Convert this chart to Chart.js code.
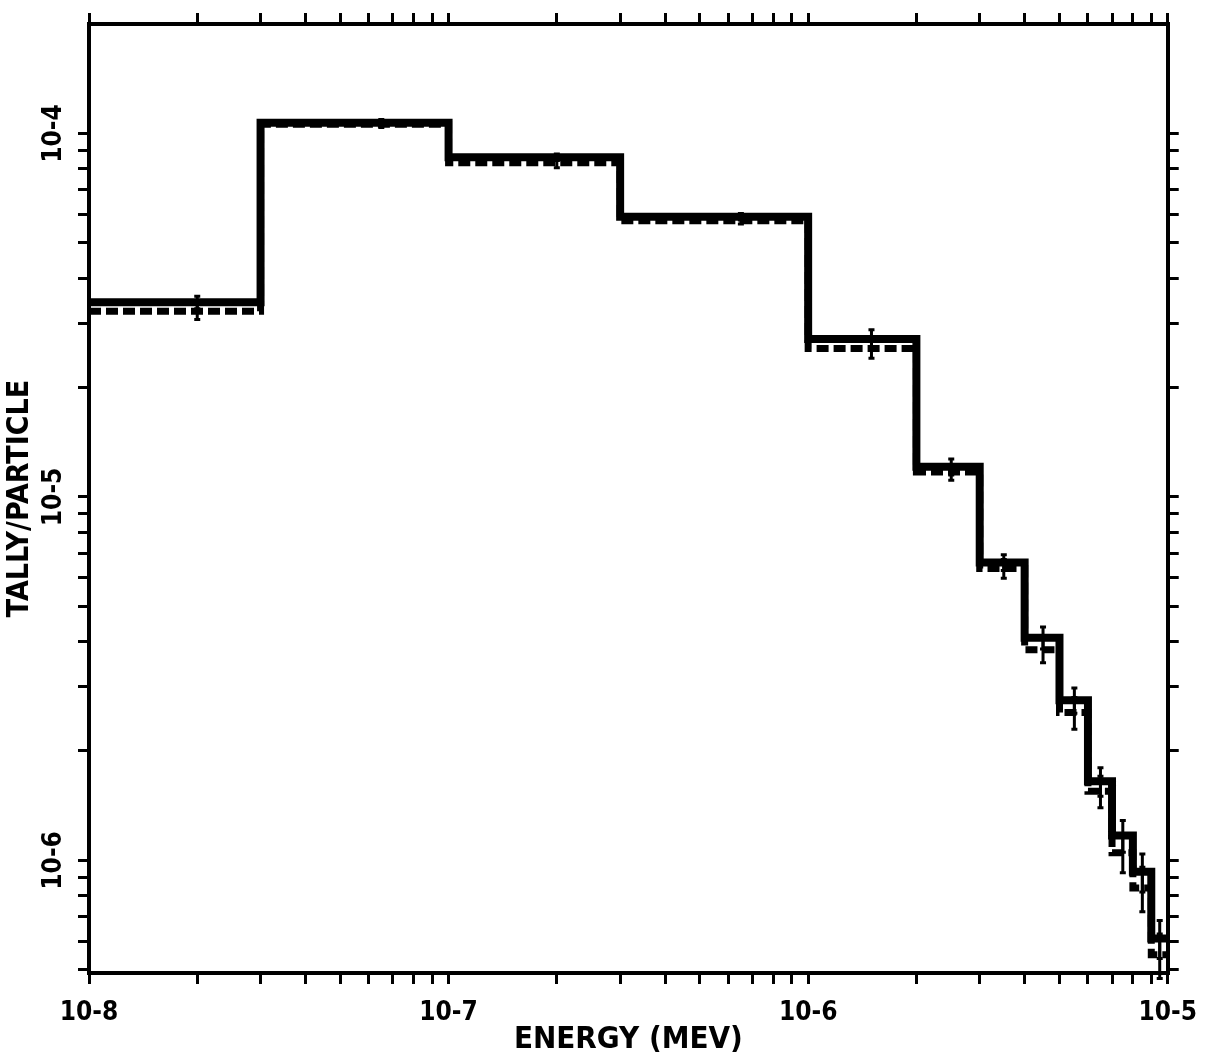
<!DOCTYPE html>
<html>
<head>
<meta charset="utf-8">
<title>Tally per particle</title>
<script src="https://cdn.jsdelivr.net/npm/chart.js@4.4.1/dist/chart.umd.min.js"></script>
<style>
  body { margin: 0; background: #fff; }
  canvas { display: block; }
</style>
</head>
<body>
<canvas id="tally" width="1211" height="1059"></canvas>
<script>
// energy bin edges (MeV)
const binEdges = [1e-8, 3e-8, 1e-7, 3e-7, 1e-6, 2e-6, 3e-6, 4e-6, 5e-6, 6e-6, 7e-6, 8e-6, 9e-6, 1e-5]
// tally per particle in each bin
const tallySolid = [3.43e-5, 1.07e-4, 8.6e-5, 5.9e-5, 2.72e-5, 1.21e-5, 6.6e-6, 4.1e-6, 2.76e-6, 1.65e-6, 1.17e-6, 9.3e-7, 6.1e-7]
const tallyDashed = [3.24e-5, 1.06e-4, 8.3e-5, 5.75e-5, 2.56e-5, 1.17e-5, 6.35e-6, 3.8e-6, 2.55e-6, 1.55e-6, 1.05e-6, 8.4e-7, 5.5e-7]
// relative errors
const errSolid = [0.04, 0.02, 0.02, 0.02, 0.06, 0.05, 0.05, 0.07, 0.08, 0.09, 0.1, 0.12, 0.12]
const errDashed = [0.05, 0.02, 0.03, 0.02, 0.06, 0.05, 0.06, 0.08, 0.1, 0.1, 0.12, 0.14, 0.14]

const xDecades = [1e-8, 1e-7, 1e-6, 1e-5]
const xTickLabels = ['10-8', '10-7', '10-6', '10-5']
const yDecades = [1e-6, 1e-5, 1e-4]
const yTickLabels = ['10-6', '10-5', '10-4']
const minorSteps = [1, 2, 3, 4, 5, 6, 7, 8, 9]

const xMin = 1e-8, xMax = 1e-5
const yMin = 4.9e-7, yMax = 2.0e-4

const plotFont = "'DejaVu Sans Condensed', 'Liberation Sans Narrow', 'DejaVu Sans', sans-serif"

function logTicks(min, max) {
    let out = []
    for (let e = Math.floor(Math.log10(min)); e <= Math.ceil(Math.log10(max)); e++) {
        for (let m of minorSteps) {
            let v = m * Math.pow(10, e)
            if (v >= min * 0.999 && v <= max * 1.001) out.push({ value: v })
        }
    }
    return out
}

function labelFor(value, decades, labels) {
    for (let i = 0; i < decades.length; i++) {
        if (Math.abs(Math.log10(value) - Math.log10(decades[i])) < 1e-6) return labels[i]
    }
    return ''
}

function stepPoints(vals) {
    let pts = vals.map((v, i) => ({ x: binEdges[i], y: v }))
    pts.push({ x: binEdges[binEdges.length - 1], y: vals[vals.length - 1] })
    return pts
}

const gridStyle = { drawOnChartArea: false, drawTicks: true, tickLength: 11, color: '#000', lineWidth: 3 }
const borderStyle = { display: true, color: '#000', width: 4 }

// error bars at bin midpoints
const errorBars = {
    id: 'errorBars',
    afterDatasetsDraw(chart) {
        const ctx = chart.ctx
        const xs = chart.scales.x, ys = chart.scales.y
        const sets = [[tallyDashed, errDashed], [tallySolid, errSolid]]
        ctx.save()
        ctx.strokeStyle = '#000'
        ctx.lineWidth = 3
        for (let [vals, errs] of sets) {
            for (let i = 0; i < vals.length; i++) {
                let px = xs.getPixelForValue((binEdges[i] + binEdges[i + 1]) / 2)
                let top = ys.getPixelForValue(vals[i] * (1 + errs[i]))
                let bot = ys.getPixelForValue(vals[i] * (1 - errs[i]))
                ctx.beginPath()
                ctx.moveTo(px, top)
                ctx.lineTo(px, bot)
                ctx.moveTo(px - 3, top)
                ctx.lineTo(px + 3, top)
                ctx.moveTo(px - 3, bot)
                ctx.lineTo(px + 3, bot)
                ctx.stroke()
            }
        }
        ctx.restore()
    }
}

// rotated y tick labels
const yLabels = {
    id: 'yLabels',
    afterDraw(chart) {
        const ctx = chart.ctx
        const ys = chart.scales.y
        ctx.save()
        ctx.fillStyle = '#000'
        ctx.font = 'bold 26px ' + plotFont
        ctx.textAlign = 'center'
        ctx.textBaseline = 'middle'
        for (let i = 0; i < yDecades.length; i++) {
            let py = ys.getPixelForValue(yDecades[i])
            ctx.save()
            ctx.translate(54, py)
            ctx.rotate(-Math.PI / 2)
            ctx.fillText(yTickLabels[i], 0, 0)
            ctx.restore()
        }
        ctx.restore()
    }
}

const ctx = document.getElementById('tally').getContext('2d')

new Chart(ctx, {
    type: 'line',
    data: {
        datasets: [
            {
                label: 'solid',
                data: stepPoints(tallySolid),
                stepped: true,
                borderColor: '#000',
                borderWidth: 8,
                pointRadius: 0,
                fill: false,
                order: 0
            },
            {
                label: 'dashed',
                data: stepPoints(tallyDashed),
                stepped: true,
                borderColor: '#000',
                borderWidth: 7,
                borderDash: [12, 5],
                pointRadius: 0,
                fill: false,
                order: 1
            }
        ]
    },
    options: {
        responsive: false,
        animation: false,
        devicePixelRatio: 1,
        layout: { padding: 0 },
        plugins: { legend: { display: false }, tooltip: { enabled: false } },
        scales: {
            x: {
                type: 'logarithmic',
                position: 'bottom',
                min: xMin,
                max: xMax,
                afterBuildTicks: (axis) => { axis.ticks = logTicks(xMin, xMax) },
                afterFit: (s) => { s.height = 86 },
                ticks: {
                    autoSkip: false,
                    maxRotation: 0,
                    padding: 14,
                    color: '#000',
                    font: { family: plotFont, size: 26, weight: 'bold' },
                    callback: (v) => labelFor(v, xDecades, xTickLabels)
                },
                grid: gridStyle,
                border: borderStyle,
                title: {
                    display: true,
                    text: 'ENERGY (MEV)',
                    color: '#000',
                    font: { family: plotFont, size: 31, weight: 'bold' },
                    padding: { top: 0, bottom: 0 }
                }
            },
            x2: {
                axis: 'x',
                type: 'logarithmic',
                position: 'top',
                min: xMin,
                max: xMax,
                afterBuildTicks: (axis) => { axis.ticks = logTicks(xMin, xMax) },
                afterFit: (s) => { s.height = 24 },
                ticks: { display: false },
                grid: gridStyle,
                border: borderStyle
            },
            y: {
                type: 'logarithmic',
                position: 'left',
                min: yMin,
                max: yMax,
                afterBuildTicks: (axis) => { axis.ticks = logTicks(yMin, yMax * 0.99) },
                afterFit: (s) => { s.width = 89 },
                ticks: { display: false },
                grid: gridStyle,
                border: borderStyle,
                title: {
                    display: true,
                    text: 'TALLY/PARTICLE',
                    color: '#000',
                    font: { family: plotFont, size: 30, weight: 'bold' },
                    padding: { top: 2, bottom: 0 }
                }
            },
            y2: {
                axis: 'y',
                type: 'logarithmic',
                position: 'right',
                min: yMin,
                max: yMax,
                afterBuildTicks: (axis) => { axis.ticks = logTicks(yMin, yMax * 0.99) },
                afterFit: (s) => { s.width = 34 },
                ticks: { display: false },
                grid: gridStyle,
                border: borderStyle
            }
        }
    },
    plugins: [errorBars, yLabels]
})
</script>
</body>
</html>
